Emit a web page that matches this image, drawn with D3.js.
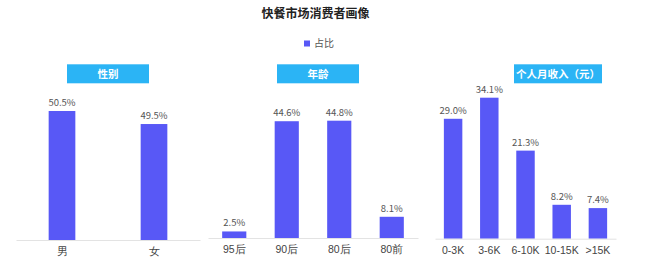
<!DOCTYPE html>
<html>
<head>
<meta charset="utf-8">
<script src="https://cdn.jsdelivr.net/npm/d3@7"></script>
<style>
    body { margin: 0; background: #fff; }
    svg { display: block; font-family: "Noto Sans CJK SC", "Noto Sans", sans-serif; }
    .value-label { font-size: 9.5px; fill: #555; }
    .cat-label { font-size: 10.5px; fill: #444; }
    .header-text { font-size: 10.5px; font-weight: bold; fill: #fff; }
</style>
</head>
<body>
<div id="chart"></div>
<script>
const width = 660
const height = 260

const chartTitle = "快餐市场消费者画像"
const legendLabel = "占比"

const genderCats = ["男", "女"]
const genderValues = [50.5, 49.5]
const ageCats = ["95后", "90后", "80后", "80前"]
const ageValues = [2.5, 44.6, 44.8, 8.1]
const incomeCats = ["0-3K", "3-6K", "6-10K", "10-15K", ">15K"]
const incomeValues = [29.0, 34.1, 21.3, 8.2, 7.4]
const panelTitles = ["性别", "年龄", "个人月收入（元）"]

const barColor = "#5858f6"
const headerColor = "#2bb4f5"

// layout for each small chart
const panels = [
    { cats: genderCats, values: genderValues, x0: 16, x1: 200, base: 240, top: 111, yMin: 40.6, pad: 0.71, head: [67, 149] },
    { cats: ageCats, values: ageValues, x0: 208, x1: 418, base: 238, top: 120.7, yMin: 0, pad: 0.54, head: [277, 359] },
    { cats: incomeCats, values: incomeValues, x0: 435, x1: 616, base: 238.7, top: 97.7, yMin: 0, pad: 0.49, head: [514, 602] }
]

const svg = d3.select("#chart")
    .append("svg")
    .attr("width", width)
    .attr("height", height)

svg.append("text")
    .text(chartTitle)
    .attr("x", 315.5)
    .attr("y", 17.5)
    .attr("text-anchor", "middle")
    .style("font-size", "12px")
    .style("font-weight", "bold")
    .style("fill", "#222")

svg.append("rect")
    .attr("x", 304)
    .attr("y", 40.5)
    .attr("width", 6)
    .attr("height", 6)
    .style("fill", barColor)
svg.append("text")
    .text(legendLabel)
    .attr("x", 314)
    .attr("y", 47)
    .style("font-size", "10px")
    .style("fill", "#555")

panels.forEach((p, i) => drawPanel(p, panelTitles[i]))

function drawPanel(p, title) {
    let g = svg.append("g")
    let xScale = d3.scaleBand()
        .domain(p.cats)
        .range([p.x0, p.x1])
        .paddingInner(p.pad)
        .paddingOuter(p.pad / 2)
    let yScale = d3.scaleLinear()
        .domain([p.yMin, d3.max(p.values)])
        .range([p.base, p.top])
    let data = p.cats.map((c, i) => ({ cat: c, value: p.values[i] }))

    // header box
    g.append("rect")
        .attr("x", p.head[0])
        .attr("y", 64.3)
        .attr("width", p.head[1] - p.head[0])
        .attr("height", 19)
        .style("fill", headerColor)
    g.append("text")
        .attr("class", "header-text")
        .text(title)
        .attr("x", (p.head[0] + p.head[1]) / 2)
        .attr("y", 77.5)
        .attr("text-anchor", "middle")

    g.selectAll(".bar")
        .data(data)
        .enter()
        .append("rect")
        .attr("class", "bar")
        .attr("x", d => xScale(d.cat))
        .attr("width", xScale.bandwidth())
        .attr("y", d => yScale(d.value))
        .attr("height", d => p.base - yScale(d.value))
        .style("fill", barColor)

    g.selectAll(".value-label")
        .data(data)
        .enter()
        .append("text")
        .attr("class", "value-label")
        .text(d => `${d.value.toFixed(1)}%`)
        .attr("x", d => xScale(d.cat) + xScale.bandwidth() / 2)
        .attr("y", d => yScale(d.value) - 5)
        .attr("text-anchor", "middle")

    let axis = d3.axisBottom(xScale).tickSize(0).tickPadding(7.5)
    let axisG = g.append("g")
        .attr("transform", `translate(0,${p.base})`)
        .call(axis)
    axisG.select(".domain").attr("stroke", "#e3e3e3")
    axisG.selectAll("text")
        .attr("class", "cat-label")
        .style("font-family", null)
        .style("font-size", null)
        .attr("fill", null)
}
</script>
</body>
</html>
